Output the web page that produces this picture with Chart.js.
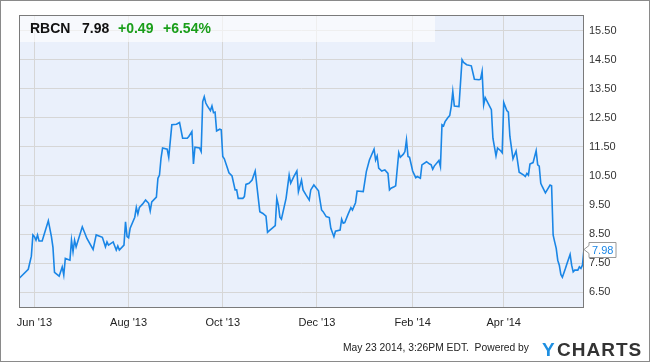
<!DOCTYPE html>
<html lang="en">
<head>
<meta charset="UTF-8">
<title>RBCN</title>
<script src="https://cdn.jsdelivr.net/npm/chart.js"></script>
<style>
  body { margin: 0; background: #fff; }
  canvas { display: block; }
</style>
</head>
<body>
<canvas id="priceChart" width="650" height="362"></canvas>
<script>
// RBCN closing prices
const dates = [
  "2013-05-22","2013-05-28","2013-05-30","2013-05-31","2013-06-01","2013-06-02","2013-06-03","2013-06-04","2013-06-06","2013-06-10",
  "2013-06-12","2013-06-13","2013-06-14","2013-06-17","2013-06-19","2013-06-20","2013-06-21","2013-06-24","2013-06-25","2013-06-26",
  "2013-06-27","2013-06-28","2013-07-02","2013-07-05","2013-07-09","2013-07-11","2013-07-15","2013-07-17","2013-07-18","2013-07-19",
  "2013-07-22","2013-07-23","2013-07-24","2013-07-25","2013-07-26","2013-07-29","2013-07-30","2013-07-31","2013-08-01","2013-08-02",
  "2013-08-05","2013-08-06","2013-08-07","2013-08-08","2013-08-10","2013-08-12","2013-08-14","2013-08-15","2013-08-16","2013-08-19",
  "2013-08-20","2013-08-21","2013-08-22","2013-08-23","2013-08-26","2013-08-27","2013-08-29","2013-09-01","2013-09-03","2013-09-05",
  "2013-09-08","2013-09-09","2013-09-11","2013-09-12","2013-09-13","2013-09-16","2013-09-17","2013-09-18","2013-09-19","2013-09-20",
  "2013-09-21","2013-09-23","2013-09-24","2013-09-25","2013-09-26","2013-09-27","2013-09-29","2013-09-30","2013-10-01","2013-10-02",
  "2013-10-04","2013-10-05","2013-10-07","2013-10-09","2013-10-10","2013-10-11","2013-10-14","2013-10-15","2013-10-16","2013-10-18",
  "2013-10-20","2013-10-22","2013-10-25","2013-10-27","2013-10-29","2013-10-30","2013-10-31","2013-11-04","2013-11-05","2013-11-06",
  "2013-11-07","2013-11-08","2013-11-11","2013-11-13","2013-11-14","2013-11-16","2013-11-18","2013-11-19","2013-11-21","2013-11-22",
  "2013-11-24","2013-11-26","2013-11-27","2013-11-29","2013-12-02","2013-12-04","2013-12-05","2013-12-07","2013-12-09","2013-12-10",
  "2013-12-12","2013-12-13","2013-12-16","2013-12-17","2013-12-18","2013-12-19","2013-12-21","2013-12-23","2013-12-24","2013-12-26",
  "2013-12-27","2013-12-31","2014-01-02","2014-01-04","2014-01-07","2014-01-08","2014-01-09","2014-01-10","2014-01-12","2014-01-14",
  "2014-01-16","2014-01-17","2014-01-18","2014-01-20","2014-01-21","2014-01-23","2014-01-24","2014-01-26","2014-01-27","2014-01-28",
  "2014-01-29","2014-01-30","2014-02-01","2014-02-03","2014-02-04","2014-02-06","2014-02-07","2014-02-10","2014-02-12","2014-02-13",
  "2014-02-14","2014-02-15","2014-02-18","2014-02-19","2014-02-20","2014-02-21","2014-02-22","2014-02-24","2014-02-25","2014-02-26",
  "2014-02-27","2014-02-28","2014-03-03","2014-03-04","2014-03-05","2014-03-06","2014-03-08","2014-03-11","2014-03-13","2014-03-16",
  "2014-03-17","2014-03-18","2014-03-19","2014-03-20","2014-03-24","2014-03-25","2014-03-27","2014-03-28","2014-03-30","2014-03-31",
  "2014-04-01","2014-04-03","2014-04-04","2014-04-05","2014-04-07","2014-04-09","2014-04-11","2014-04-14","2014-04-15","2014-04-16",
  "2014-04-17","2014-04-18","2014-04-20","2014-04-22","2014-04-23","2014-04-24","2014-04-25","2014-04-26","2014-04-28","2014-05-01",
  "2014-05-02","2014-05-03","2014-05-04","2014-05-05","2014-05-06","2014-05-07","2014-05-08","2014-05-09","2014-05-11","2014-05-12",
  "2014-05-14","2014-05-15","2014-05-16","2014-05-17","2014-05-19","2014-05-20","2014-05-21","2014-05-22","2014-05-23"
];
const prices = [
  6.97, 7.29, 7.74, 8.47, 8.41, 8.29, 8.47, 8.26, 8.26, 8.96,
  8.41, 8.04, 7.18, 7.05, 7.37, 7.09, 7.66, 7.60, 8.29, 7.89,
  8.29, 8.06, 8.75, 8.35, 7.97, 8.47, 8.39, 8.06, 8.23, 8.12,
  8.23, 8.09, 7.95, 8.09, 7.95, 8.12, 8.92, 8.41, 8.37, 8.70,
  9.08, 9.42, 9.19, 9.42, 9.53, 9.67, 9.56, 9.30, 9.61, 9.77,
  10.42, 10.53, 11.11, 11.46, 11.42, 11.14, 12.26, 12.28, 12.34, 11.80,
  11.80, 11.86, 12.03, 10.91, 11.49, 11.46, 11.34, 13.06, 13.23, 13.01,
  12.91, 12.75, 12.91, 12.68, 12.70, 12.05, 12.11, 12.09, 11.17, 11.09,
  10.77, 10.61, 10.50, 10.02, 10.02, 9.73, 9.73, 9.79, 10.21, 10.25,
  10.36, 10.67, 9.27, 9.21, 9.12, 8.56, 8.61, 8.79, 9.73, 9.50,
  9.08, 9.01, 9.73, 10.53, 10.25, 10.48, 10.67, 9.96, 10.36, 10.02,
  9.84, 9.67, 10.02, 10.19, 9.99, 9.33, 9.27, 9.10, 9.07, 8.70,
  8.41, 8.60, 8.64, 9.01, 8.87, 8.89, 9.16, 9.41, 9.33, 9.58,
  9.98, 9.96, 10.65, 11.05, 11.42, 11.05, 11.19, 10.77, 10.67, 10.71,
  10.59, 10.02, 10.08, 10.13, 10.16, 11.30, 11.14, 11.25, 11.34, 11.74,
  11.17, 11.14, 10.67, 10.44, 10.48, 10.42, 10.88, 10.99, 10.91, 10.88,
  10.73, 10.84, 11.03, 10.82, 12.26, 12.22, 12.37, 12.52, 12.58, 12.89,
  13.41, 12.91, 12.89, 13.70, 14.50, 14.41, 14.33, 14.29, 13.83, 13.81,
  13.83, 14.10, 12.95, 13.20, 12.78, 11.80, 11.19, 11.46, 11.37, 11.30,
  13.03, 12.75, 12.70, 11.86, 11.09, 11.36, 10.63, 10.53, 10.48, 10.59,
  10.53, 10.91, 10.96, 11.37, 10.88, 10.84, 10.25, 10.13, 9.92, 10.19,
  10.16, 8.47, 8.23, 8.01, 7.60, 7.43, 7.11, 7.01, 7.32, 7.49,
  7.80, 7.43, 7.20, 7.26, 7.26, 7.37, 7.32, 7.43, 7.98
];
const xTickDates = ["2013-06-01", "2013-08-01", "2013-10-01", "2013-12-01", "2014-02-01", "2014-04-01"];
const xTickLabels = ["Jun '13", "Aug '13", "Oct '13", "Dec '13", "Feb '14", "Apr '14"];
const yTicks = [6.5, 7.5, 8.5, 9.5, 10.5, 11.5, 12.5, 13.5, 14.5, 15.5];
const yTickLabels = ["6.50", "7.50", "8.50", "9.50", "10.50", "11.50", "12.50", "13.50", "14.50", "15.50"];
const symbol = "RBCN";
const lastPrice = "7.98";
const change = "+0.49";
const changePct = "+6.54%";
const footerText = "May 23 2014, 3:26PM EDT.  Powered by";

const FONT = "'Liberation Sans', Arial, sans-serif";
const DAY = 86400000;
function dayNum(s) {
  const p = s.split("-");
  return Date.UTC(+p[0], +p[1] - 1, +p[2]) / DAY;
}

const points = dates.map((d, i) => ({ x: dayNum(d), y: prices[i] }));

// background, header box, frame, price tag and footer
const decor = {
  id: "decor",
  beforeDraw(chart) {
    const { ctx, chartArea: a } = chart;
    ctx.save();
    ctx.fillStyle = "#fff";
    ctx.fillRect(0, 0, chart.width, chart.height);
    ctx.fillStyle = "#eaf0fb";
    ctx.fillRect(a.left, a.top, a.right - a.left, a.bottom - a.top);
    ctx.restore();
  },
  beforeDatasetsDraw(chart) {
    const { ctx, chartArea: a } = chart;
    ctx.save();
    ctx.fillStyle = "rgba(255,255,255,0.6)";
    ctx.fillRect(a.left, a.top, 435 - a.left, 27);
    ctx.font = "bold 14px " + FONT;
    ctx.textBaseline = "alphabetic";
    ctx.fillStyle = "#111";
    ctx.fillText(symbol, 30, 33);
    ctx.fillText(lastPrice, 82, 33);
    ctx.fillStyle = "#1a9e1a";
    ctx.fillText(change, 118, 33);
    ctx.fillText(changePct, 163, 33);
    ctx.restore();
  },
  afterDraw(chart) {
    const { ctx, chartArea: a } = chart;
    const ys = chart.scales.y;
    ctx.save();
    // plot frame
    ctx.strokeStyle = "#7a7a7a";
    ctx.lineWidth = 1;
    ctx.strokeRect(a.left + 0.5, a.top + 0.5, a.right - a.left - 1, a.bottom - a.top);

    // last price tag
    const py = Math.round(ys.getPixelForValue(prices[prices.length - 1])) + 0.5;
    const bx = a.right + 5, bw = 27, bh = 15;
    ctx.beginPath();
    ctx.moveTo(bx, py - 7);
    ctx.lineTo(bx + bw, py - 7);
    ctx.lineTo(bx + bw, py - 7 + bh);
    ctx.lineTo(bx, py - 7 + bh);
    ctx.lineTo(bx, py + 4);
    ctx.lineTo(a.right, py);
    ctx.lineTo(bx, py - 4);
    ctx.closePath();
    ctx.fillStyle = "#fff";
    ctx.fill();
    ctx.strokeStyle = "#9a9a9a";
    ctx.stroke();
    ctx.fillStyle = "#1a86e6";
    ctx.font = "11px " + FONT;
    ctx.textBaseline = "middle";
    ctx.fillText(lastPrice, bx + 3, py + 1);

    // footer
    ctx.textBaseline = "alphabetic";
    ctx.fillStyle = "#222";
    ctx.textAlign = "right";
    ctx.font = "10.3px " + FONT;
    ctx.fillText(footerText, 529, 351);
    ctx.textAlign = "left";
    ctx.font = "bold 19px " + FONT;
    ctx.fillStyle = "#1e8fe1";
    ctx.fillText("Y", 542, 356);
    ctx.fillStyle = "#333";
    ctx.letterSpacing = "1px";
    ctx.fillText("CHARTS", 557, 356);

    // outer border
    ctx.strokeStyle = "#8a8a8a";
    ctx.strokeRect(0.5, 0.5, chart.width - 1, chart.height - 1);
    ctx.restore();
  }
};

new Chart(document.getElementById("priceChart"), {
  type: "line",
  data: {
    datasets: [{
      data: points,
      borderColor: "#1a86e6",
      borderWidth: 1.6,
      pointRadius: 0,
      tension: 0,
      fill: false
    }]
  },
  options: {
    responsive: false,
    animation: false,
    devicePixelRatio: 1,
    layout: { padding: { left: 19, top: 15, right: 0, bottom: 0 } },
    plugins: { legend: { display: false }, tooltip: { enabled: false } },
    scales: {
      x: {
        type: "linear",
        min: dayNum(dates[0]),
        max: dayNum(dates[dates.length - 1]),
        afterBuildTicks(scale) {
          scale.ticks = xTickDates.map(d => ({ value: dayNum(d) }));
        },
        afterFit(scale) { scale.height = 55; },
        grid: { color: "#d6d6d6", drawTicks: false },
        border: { display: false },
        ticks: {
          autoSkip: false,
          maxRotation: 0,
          padding: 9,
          color: "#222",
          font: { family: FONT, size: 11 },
          callback: (v, i) => xTickLabels[i]
        }
      },
      y: {
        position: "right",
        min: 5.99,
        max: 16.04,
        afterBuildTicks(scale) {
          scale.ticks = yTicks.map(v => ({ value: v }));
        },
        afterFit(scale) { scale.width = 66; },
        grid: { color: "#d6d6d6", drawTicks: false },
        border: { display: false },
        ticks: {
          padding: 5,
          color: "#333",
          font: { family: FONT, size: 11 },
          callback: (v, i) => yTickLabels[i]
        }
      }
    }
  },
  plugins: [decor]
});
</script>
</body>
</html>
